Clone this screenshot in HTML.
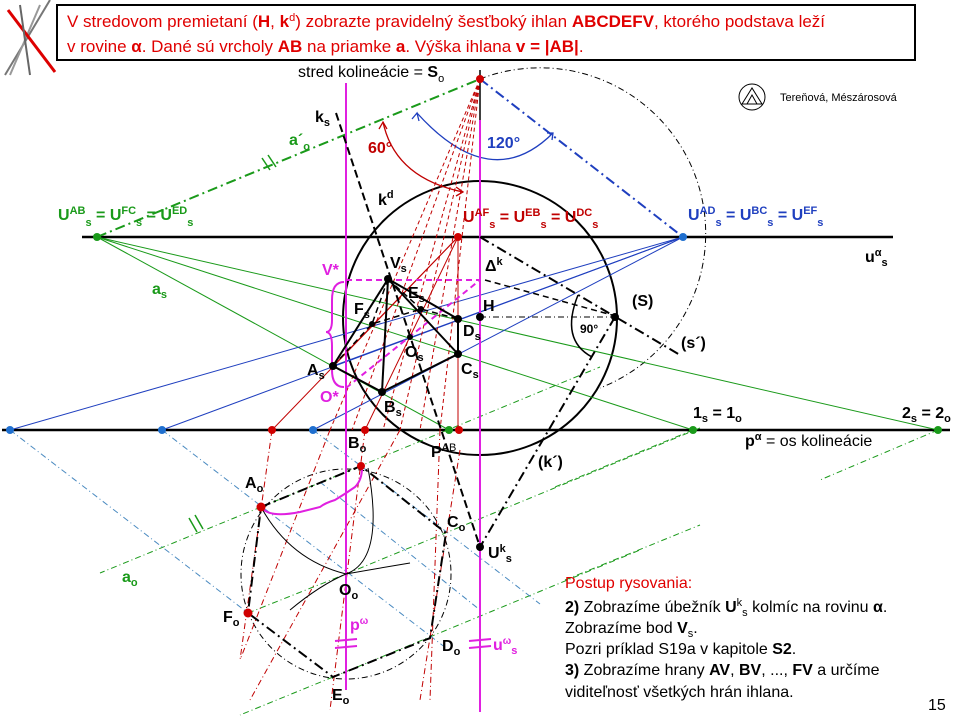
<!DOCTYPE html>
<html><head><meta charset="utf-8"><style>
html,body{margin:0;padding:0;background:#fff;width:960px;height:720px;overflow:hidden}
svg text{font-family:"Liberation Sans",sans-serif}
.b{font-weight:bold}
</style></head><body>
<svg width="960" height="720" viewBox="0 0 960 720" xmlns="http://www.w3.org/2000/svg">
<!-- corner logo -->
<g stroke-width="2">
<line x1="5" y1="75" x2="50" y2="0" stroke="#777"/>
<line x1="10" y1="75" x2="40" y2="5" stroke="#999"/>
<line x1="8" y1="10" x2="55" y2="72" stroke="#d00" stroke-width="3"/>
<line x1="20" y1="5" x2="30" y2="75" stroke="#666"/>
</g>
<!-- title box -->
<rect x="57" y="5" width="858" height="55" fill="#fff" stroke="#000" stroke-width="2"/>
<text x="67" y="27" font-size="17" fill="#e00000">V stredovom premietaní (<tspan class="b">H</tspan>, <tspan class="b">k</tspan><tspan font-size="11" dy="-6">d</tspan><tspan dy="6">) zobrazte pravidelný šesťboký ihlan </tspan><tspan class="b">ABCDEFV</tspan>, ktorého podstava leží</text>
<text x="67" y="52" font-size="17" fill="#e00000">v rovine <tspan class="b">α</tspan>. Dané sú vrcholy <tspan class="b">AB</tspan> na priamke <tspan class="b">a</tspan>. Výška ihlana <tspan class="b">v = |AB|</tspan>.</text>

<text x="298" y="77" font-size="16">stred kolineácie = <tspan class="b">S</tspan><tspan font-size="11" dy="5">o</tspan></text>
<!-- author -->
<circle cx="752" cy="97" r="13" fill="none" stroke="#000"/>
<path d="M742 104 L752 88 L762 104 Z M747 104 L752 95 L757 104" fill="none" stroke="#000"/>
<text x="780" y="101" font-size="11">Tereňová,  Mészárosová</text>

<!-- main lines -->
<line x1="82" y1="237" x2="893" y2="237" stroke="#000" stroke-width="2.5"/>
<line x1="2" y1="430" x2="950" y2="430" stroke="#000" stroke-width="2.5"/>
<line x1="480" y1="70" x2="480" y2="120" stroke="#000" stroke-width="1.5"/>

<!-- thales arc -->
<path d="M480 79 A157 157 0 0 1 600 388" fill="none" stroke="#000" stroke-width="1" stroke-dasharray="6,3,1,3"/>
<!-- big circle kd -->
<circle cx="480" cy="318" r="137" fill="none" stroke="#000" stroke-width="2"/>
<!-- hexagon circle -->
<circle cx="346" cy="574" r="105" fill="none" stroke="#000" stroke-width="1" stroke-dasharray="6,3,1,3"/>

<!-- green lines -->
<g stroke="#1a9a1a" fill="none">
<line x1="97" y1="237" x2="480" y2="79" stroke-width="2" stroke-dasharray="10,4,2,4"/>
<line x1="97" y1="237" x2="938" y2="430"/>
<line x1="97" y1="237" x2="693" y2="430"/>
<line x1="97" y1="237" x2="449" y2="430"/>
<g stroke-dasharray="6,3,1,3" stroke-width="1">
<line x1="261" y1="507" x2="100" y2="573"/>
<line x1="261" y1="507" x2="600" y2="367"/>
<line x1="346" y1="574" x2="700" y2="428"/>
<line x1="248" y1="613" x2="346" y2="574"/>
<line x1="333" y1="677" x2="640" y2="550"/>
<line x1="333" y1="677" x2="240" y2="715"/>
<line x1="693" y1="430" x2="555" y2="487"/>
<line x1="938" y1="430" x2="820" y2="480"/>
<line x1="565" y1="580" x2="700" y2="525"/>
</g>
<line x1="262" y1="158" x2="270" y2="170" stroke-width="1.5"/>
<line x1="268" y1="155" x2="276" y2="167" stroke-width="1.5"/>
<line x1="189" y1="518" x2="197" y2="532" stroke-width="1.5"/>
<line x1="195" y1="515" x2="203" y2="529" stroke-width="1.5"/>
</g>
<!-- blue lines -->
<g stroke="#1f3fbf" fill="none">
<line x1="480" y1="79" x2="683" y2="237" stroke-width="2" stroke-dasharray="10,4,2,4"/>
<line x1="683" y1="237" x2="10" y2="430"/>
<line x1="683" y1="237" x2="162" y2="430"/>
<line x1="683" y1="237" x2="313" y2="430"/>
<line x1="683" y1="237" x2="333" y2="366"/>
<path d="M417 113 Q491 195 553 133" stroke-width="1.3"/>
<path d="M412 119 L417 113 L419 121" stroke-width="1.3"/>
<path d="M547 133 L553 133 L552 140" stroke-width="1.3"/>
<g stroke-dasharray="6,3,1,3" stroke-width="1" stroke="#4a8ac0">
<line x1="10" y1="430" x2="248" y2="613"/>
<line x1="162" y1="430" x2="446" y2="648"/>
<line x1="313" y1="430" x2="361" y2="466"/>
<line x1="361" y1="466" x2="540" y2="604"/>
<line x1="320" y1="482" x2="480" y2="610"/>
</g>
</g>
<!-- red lines -->
<g stroke="#c00000" fill="none" stroke-width="1">
<line x1="458" y1="237" x2="458" y2="430"/>
<line x1="458" y1="237" x2="272" y2="430"/>
<line x1="458" y1="237" x2="365" y2="430"/>
<line x1="458" y1="237" x2="333" y2="366"/>
<path d="M383 122 Q395 178 463 192" stroke-width="1.3"/>
<path d="M379 129 L383 122 L387 129" stroke-width="1.3"/>
<path d="M456 187 L463 192 L456 196" stroke-width="1.3"/>
<g stroke-dasharray="4,3">
<line x1="480" y1="79" x2="400" y2="430"/>
<line x1="480" y1="79" x2="383" y2="430"/>
<line x1="480" y1="79" x2="352" y2="430"/>
<line x1="480" y1="79" x2="330" y2="430"/>
<line x1="480" y1="79" x2="440" y2="430"/>
<line x1="480" y1="79" x2="420" y2="430"/>
</g>
<g stroke-dasharray="6,3,1,3">
<line x1="272" y1="430" x2="240" y2="660"/>
<line x1="365" y1="430" x2="330" y2="710"/>
<line x1="330" y1="430" x2="240" y2="660"/>
<line x1="400" y1="430" x2="250" y2="700"/>
<line x1="440" y1="430" x2="430" y2="700"/>
<line x1="460" y1="450" x2="420" y2="700"/>
</g>
</g>

<!-- magenta -->
<g stroke="#e020e0" fill="none" stroke-width="2">
<line x1="346" y1="83" x2="346" y2="690"/>
<line x1="480" y1="120" x2="480" y2="712"/>
<line x1="346" y1="280" x2="480" y2="280" stroke-dasharray="6,4"/>
<line x1="346" y1="388" x2="480" y2="280" stroke-dasharray="6,4"/>
<path d="M344 282 Q332 282 332 300 L332 320 Q332 332 326 332 Q332 332 332 346 L332 370 Q332 387 344 387"/>
<path d="M262 508 Q270 518 300 512 L320 507 Q325 503 335 500 Q345 494 355 487 Q362 480 362 468"/>
<line x1="335" y1="641" x2="357" y2="639"/><line x1="335" y1="648" x2="357" y2="646"/>
<line x1="469" y1="641" x2="491" y2="639"/><line x1="469" y1="648" x2="491" y2="646"/>
</g>

<!-- black construction -->
<g stroke="#000" fill="none">
<line x1="336" y1="113" x2="480" y2="547" stroke-width="2" stroke-dasharray="8,4"/>
<line x1="615" y1="317" x2="480" y2="547" stroke-width="2" stroke-dasharray="10,4,2,4"/>
<line x1="480" y1="237" x2="680" y2="355" stroke-width="2" stroke-dasharray="10,4,2,4"/>
<line x1="480" y1="317" x2="615" y2="317" stroke-width="1" stroke-dasharray="6,3,1,3"/>
<line x1="485" y1="280" x2="612" y2="315" stroke-width="1.5" stroke-dasharray="6,4"/>
<path d="M578 295 Q560 340 592 357" stroke-width="1.5"/>
<path d="M261 507 Q290 560 346 574" stroke-width="1"/>
<path d="M346 574 Q385 560 368 468" stroke-width="1"/>
<path d="M290 610 Q320 585 346 574 Q380 568 410 563" stroke-width="1"/>
<g stroke-width="2" stroke-dasharray="10,4,2,4">
<path d="M261 507 L361 466 L446 533 L430 638 L333 677 L248 613 Z"/>
</g>
<g stroke-width="2">
<path d="M333 366 L382 392 L458 354 L458 319"/>
<line x1="388" y1="279" x2="333" y2="366"/>
<line x1="388" y1="279" x2="382" y2="392"/>
<line x1="388" y1="279" x2="458" y2="354"/>
<line x1="388" y1="279" x2="458" y2="319"/>
</g>
<g stroke-width="1.5" stroke-dasharray="6,4">
<path d="M333 366 L372 324 L421 309 L458 319"/>
<line x1="388" y1="279" x2="372" y2="324"/>
<line x1="388" y1="279" x2="421" y2="309"/>
</g>
</g>

<!-- points -->
<g fill="#1a9a1a"><circle cx="97" cy="237" r="4"/><circle cx="693" cy="430" r="4"/><circle cx="938" cy="430" r="4"/><circle cx="449" cy="430" r="4"/></g>
<g fill="#1f6fcf"><circle cx="683" cy="237" r="4"/><circle cx="10" cy="430" r="4"/><circle cx="162" cy="430" r="4"/><circle cx="313" cy="430" r="4"/></g>
<g fill="#d00000"><circle cx="480" cy="79" r="4"/><circle cx="458" cy="237" r="4"/><circle cx="272" cy="430" r="4"/><circle cx="365" cy="430" r="4"/><circle cx="459" cy="430" r="4"/><circle cx="261" cy="507" r="4.5"/><circle cx="361" cy="466" r="4"/><circle cx="248" cy="613" r="4.5"/></g>
<g fill="#000"><circle cx="333" cy="366" r="4"/><circle cx="382" cy="392" r="4"/><circle cx="458" cy="354" r="4"/><circle cx="458" cy="319" r="4"/><circle cx="388" cy="279" r="4"/><circle cx="480" cy="317" r="4"/><circle cx="615" cy="317" r="4"/><circle cx="480" cy="547" r="4"/><circle cx="410" cy="337" r="3"/><circle cx="372" cy="324" r="3"/><circle cx="421" cy="309" r="3"/></g>

<!-- labels -->
<g font-size="16" font-weight="bold">
<text x="315" y="122">k<tspan font-size="11" dy="4">s</tspan></text>
<text x="289" y="145" fill="#1a9a1a">a´<tspan font-size="11" dy="5">o</tspan></text>
<text x="368" y="153" fill="#c00000">60°</text>
<text x="487" y="148" fill="#1f3fbf">120°</text>
<text x="378" y="205">k<tspan font-size="11" dy="-7">d</tspan></text>
<text x="58" y="220" fill="#1a9a1a">U<tspan font-size="11" dy="-6">AB</tspan><tspan font-size="11" dy="12">s</tspan><tspan dy="-6"> = U</tspan><tspan font-size="11" dy="-6">FC</tspan><tspan font-size="11" dy="12">s</tspan><tspan dy="-6"> = U</tspan><tspan font-size="11" dy="-6">ED</tspan><tspan font-size="11" dy="12">s</tspan></text>
<text x="463" y="222" fill="#c00000">U<tspan font-size="11" dy="-6">AF</tspan><tspan font-size="11" dy="12">s</tspan><tspan dy="-6"> = U</tspan><tspan font-size="11" dy="-6">EB</tspan><tspan font-size="11" dy="12">s</tspan><tspan dy="-6"> = U</tspan><tspan font-size="11" dy="-6">DC</tspan><tspan font-size="11" dy="12">s</tspan></text>
<text x="688" y="220" fill="#1f3fbf">U<tspan font-size="11" dy="-6">AD</tspan><tspan font-size="11" dy="12">s</tspan><tspan dy="-6"> = U</tspan><tspan font-size="11" dy="-6">BC</tspan><tspan font-size="11" dy="12">s</tspan><tspan dy="-6"> = U</tspan><tspan font-size="11" dy="-6">EF</tspan><tspan font-size="11" dy="12">s</tspan></text>
<text x="865" y="262">u<tspan font-size="11" dy="-6">α</tspan><tspan font-size="11" dy="10">s</tspan></text>
<text x="152" y="294" fill="#1a9a1a">a<tspan font-size="11" dy="4">s</tspan></text>
<text x="322" y="275" fill="#e020e0">V*</text>
<text x="390" y="268">V<tspan font-size="11" dy="4">s</tspan></text>
<text x="485" y="271">Δ<tspan font-size="11" dy="-6">k</tspan></text>
<text x="408" y="298">E<tspan font-size="11" dy="4">s</tspan></text>
<text x="354" y="314">F<tspan font-size="11" dy="4">s</tspan></text>
<text x="483" y="311">H</text>
<text x="632" y="306">(S)</text>
<text x="580" y="333" font-size="12">90°</text>
<text x="463" y="336">D<tspan font-size="11" dy="4">s</tspan></text>
<text x="405" y="357">O<tspan font-size="11" dy="4">s</tspan></text>
<text x="681" y="348">(s´)</text>
<text x="307" y="375">A<tspan font-size="11" dy="4">s</tspan></text>
<text x="461" y="374">C<tspan font-size="11" dy="4">s</tspan></text>
<text x="320" y="402" fill="#e020e0">O*</text>
<text x="384" y="412">B<tspan font-size="11" dy="4">s</tspan></text>
<text x="693" y="418">1<tspan font-size="11" dy="4">s</tspan><tspan dy="-4"> = 1</tspan><tspan font-size="11" dy="4">o</tspan></text>
<text x="902" y="418">2<tspan font-size="11" dy="4">s</tspan><tspan dy="-4"> = 2</tspan><tspan font-size="11" dy="4">o</tspan></text>
<text x="348" y="448">B<tspan font-size="11" dy="4">o</tspan></text>
<text x="431" y="457">P<tspan font-size="11" font-weight="normal" dy="-6">AB</tspan></text>
<text x="538" y="467">(k´)</text>
<text x="245" y="488">A<tspan font-size="11" dy="4">o</tspan></text>
<text x="447" y="527">C<tspan font-size="11" dy="4">o</tspan></text>
<text x="488" y="558">U<tspan font-size="11" dy="-6">k</tspan><tspan font-size="11" dy="10">s</tspan></text>
<text x="122" y="582" fill="#1a9a1a">a<tspan font-size="11" dy="4">o</tspan></text>
<text x="339" y="595">O<tspan font-size="11" dy="4">o</tspan></text>
<text x="223" y="622">F<tspan font-size="11" dy="4">o</tspan></text>
<text x="350" y="630" fill="#e020e0">p<tspan font-size="10" dy="-6">ω</tspan></text>
<text x="442" y="651">D<tspan font-size="11" dy="4">o</tspan></text>
<text x="493" y="650" fill="#e020e0">u<tspan font-size="10" dy="-6">ω</tspan><tspan font-size="11" dy="10">s</tspan></text>
<text x="332" y="700">E<tspan font-size="11" dy="4">o</tspan></text>
</g>
<text x="745" y="446" font-size="16"><tspan font-weight="bold">p</tspan><tspan font-size="11" dy="-6" font-weight="bold">α</tspan><tspan dy="6"> = os kolineácie</tspan></text>

<g font-size="16">
<text x="565" y="588" fill="#e00000">Postup rysovania:</text>
<text x="565" y="612"><tspan class="b">2)</tspan> Zobrazíme úbežník <tspan class="b">U</tspan><tspan font-size="11" dy="-6">k</tspan><tspan font-size="11" dy="10">s</tspan><tspan dy="-4"> kolmíc na rovinu </tspan><tspan class="b">α</tspan>.</text>
<text x="565" y="633">Zobrazíme bod <tspan class="b">V</tspan><tspan font-size="11" dy="4">s</tspan><tspan dy="-4">.</tspan></text>
<text x="565" y="654">Pozri príklad S19a v kapitole <tspan class="b">S2</tspan>.</text>
<text x="565" y="675"><tspan class="b">3)</tspan> Zobrazíme hrany <tspan class="b">AV</tspan>, <tspan class="b">BV</tspan>, ..., <tspan class="b">FV</tspan> a určíme</text>
<text x="565" y="697">viditeľnosť všetkých hrán ihlana.</text>
<text x="928" y="710">15</text>
</g>
</svg>
</body></html>
